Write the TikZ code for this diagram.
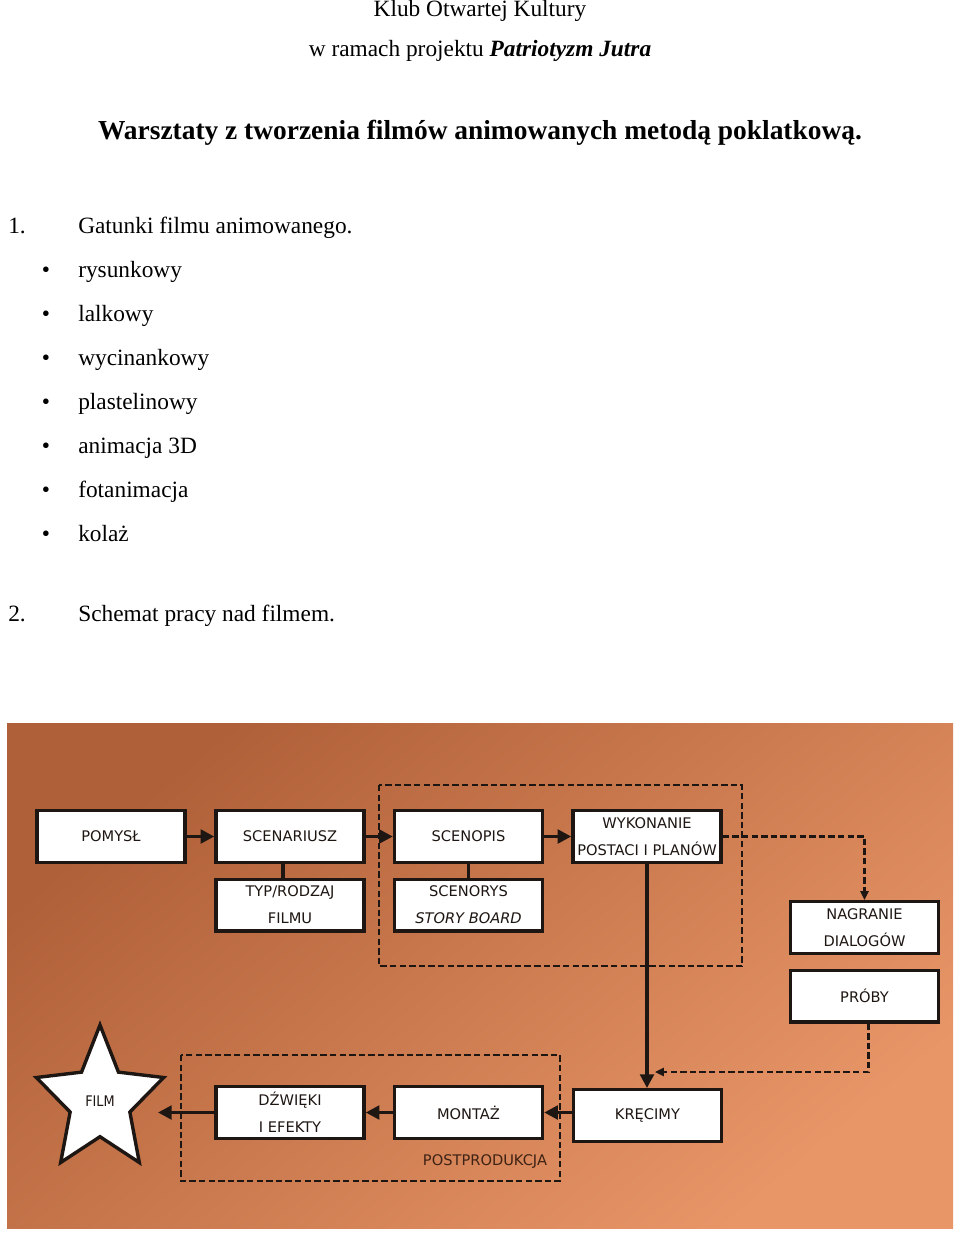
\documentclass[tikz,border=0pt]{standalone}
\usepackage{fontspec}
\setmainfont{Liberation Serif}
\newfontfamily\diagfont{DejaVu Sans}
\usetikzlibrary{arrows.meta,shapes.geometric}

\definecolor{bgdark}{RGB}{176,96,56}
\definecolor{bgmid}{RGB}{200,120,76}
\definecolor{bglight}{RGB}{232,150,104}
\definecolor{ink}{RGB}{30,22,18}
\definecolor{postbrown}{RGB}{62,34,20}

\begin{document}
\begin{tikzpicture}[x=0.025cm, y=-0.025cm,
  doc/.style={font=\fontsize{16.6}{20}\selectfont, inner sep=0},
  headline/.style={font=\fontsize{19.5}{23}\selectfont\bfseries, inner sep=0},
  box/.style={draw=ink, line width=0.085cm, fill=white, minimum width=3.7cm, minimum height=1.29cm, inner sep=0, align=center, text=ink, font=\diagfont\fontsize{10.4}{19.2}\selectfont},
  flow/.style={draw=ink, line width=0.08cm, -{Triangle[length=0.34cm, width=0.34cm]}},
  link/.style={draw=ink, line width=0.08cm},
  dashflow/.style={draw=ink, line width=0.055cm, dash pattern=on 0.16cm off 0.08cm, -{Triangle[length=0.22cm, width=0.2cm]}},
  groupbox/.style={draw=ink, line width=0.05cm, dash pattern=on 0.16cm off 0.08cm}]
\useasboundingbox (0,0) rectangle (960,1235);
\node[doc, anchor=base] (klub) at (480,17) {Klub Otwartej Kultury};
\node[doc, anchor=base] (projekt) at (480,57) {w ramach projektu \textbf{\textit{Patriotyzm Jutra}}};
\node[headline, anchor=base] (tytul) at (480,140) {Warsztaty z tworzenia filmów animowanych metodą poklatkową.};
\node[doc, anchor=base west] (nr1) at (8,233) {1.};
\node[doc, anchor=base west] (gatunki) at (78,233) {Gatunki filmu animowanego.};
\foreach \y/\t [count=\i] in {277/rysunkowy, 321/lalkowy, 365/wycinankowy, 409/plastelinowy, 453/animacja 3D, 497/fotanimacja, 541/kolaż} {
  \node[doc, anchor=base] (kropka\i) at (46,\y) {\textbullet};
  \node[doc, anchor=base west] (gatunek\i) at (78,\y) {\t};
}
\node[doc, anchor=base west] (nr2) at (8,621) {2.};
\node[doc, anchor=base west] (schemat) at (78,621) {Schemat pracy nad filmem.};

% schemat
\shade[top color=bgdark, middle color=bgmid, bottom color=bglight, shading angle=40] (7,723) rectangle (953,1228);
\draw[groupbox] (379,785) rectangle (742,966); % przygotowanie
\draw[groupbox] (181,1055) rectangle (560,1181); % postprodukcja
\node[font=\diagfont\fontsize{10.4}{12}\selectfont, text=postbrown] (postlabel) at (485,1162) {POSTPRODUKCJA};

\node[box] (pomysl) at (111,836.5) {POMYSŁ};
\node[box] (scenariusz) at (290,836.5) {SCENARIUSZ};
\node[box] (typ) at (290,905) {TYP/RODZAJ\\FILMU};
\node[box] (scenopis) at (468.5,836.5) {SCENOPIS};
\node[box] (scenorys) at (468.5,905) {SCENORYS\\\textit{STORY BOARD}};
\node[box] (wykonanie) at (647,836.5) {WYKONANIE\\POSTACI I PLANÓW};
\node[box] (nagranie) at (864.5,927.5) {NAGRANIE\\DIALOGÓW};
\node[box] (proby) at (864.5,996) {PRÓBY};
\node[box] (krecimy) at (647.5,1115.5) {KRĘCIMY};
\node[box] (montaz) at (468.5,1112.5) {MONTAŻ};
\node[box] (dzwieki) at (290,1112.5) {DŹWIĘKI\\I EFEKTY};
\node[star, star points=5, star point ratio=2.13, minimum size=3.8cm, xscale=0.88, draw=ink, line width=0.085cm, fill=white, inner sep=0, text=ink, font=\diagfont\fontsize{10.4}{12}\selectfont] (film) at (100,1101) {FILM};
\coordinate (probycel) at (655,1072);
\coordinate (filmcel) at (158,1112.5);

\draw[flow] (pomysl) -- (scenariusz);
\draw[flow] (scenariusz) -- (scenopis);
\draw[flow] (scenopis) -- (wykonanie);
\draw[link] ([xshift=-0.175cm]scenariusz.south) -- ([xshift=-0.175cm]typ.north);
\draw[link] (scenopis) -- (scenorys);
\draw[flow] (wykonanie.south) -- (wykonanie.south |- krecimy.north);
\draw[dashflow] (wykonanie.east) -| (nagranie.north);
\draw[dashflow] ([xshift=0.1cm]proby.south) |- (probycel);
\draw[flow] (krecimy.west |- montaz.east) -- (montaz.east);
\draw[flow] (montaz) -- (dzwieki);
\draw[flow] (dzwieki.west) -- (filmcel);
\end{tikzpicture}
\end{document}
